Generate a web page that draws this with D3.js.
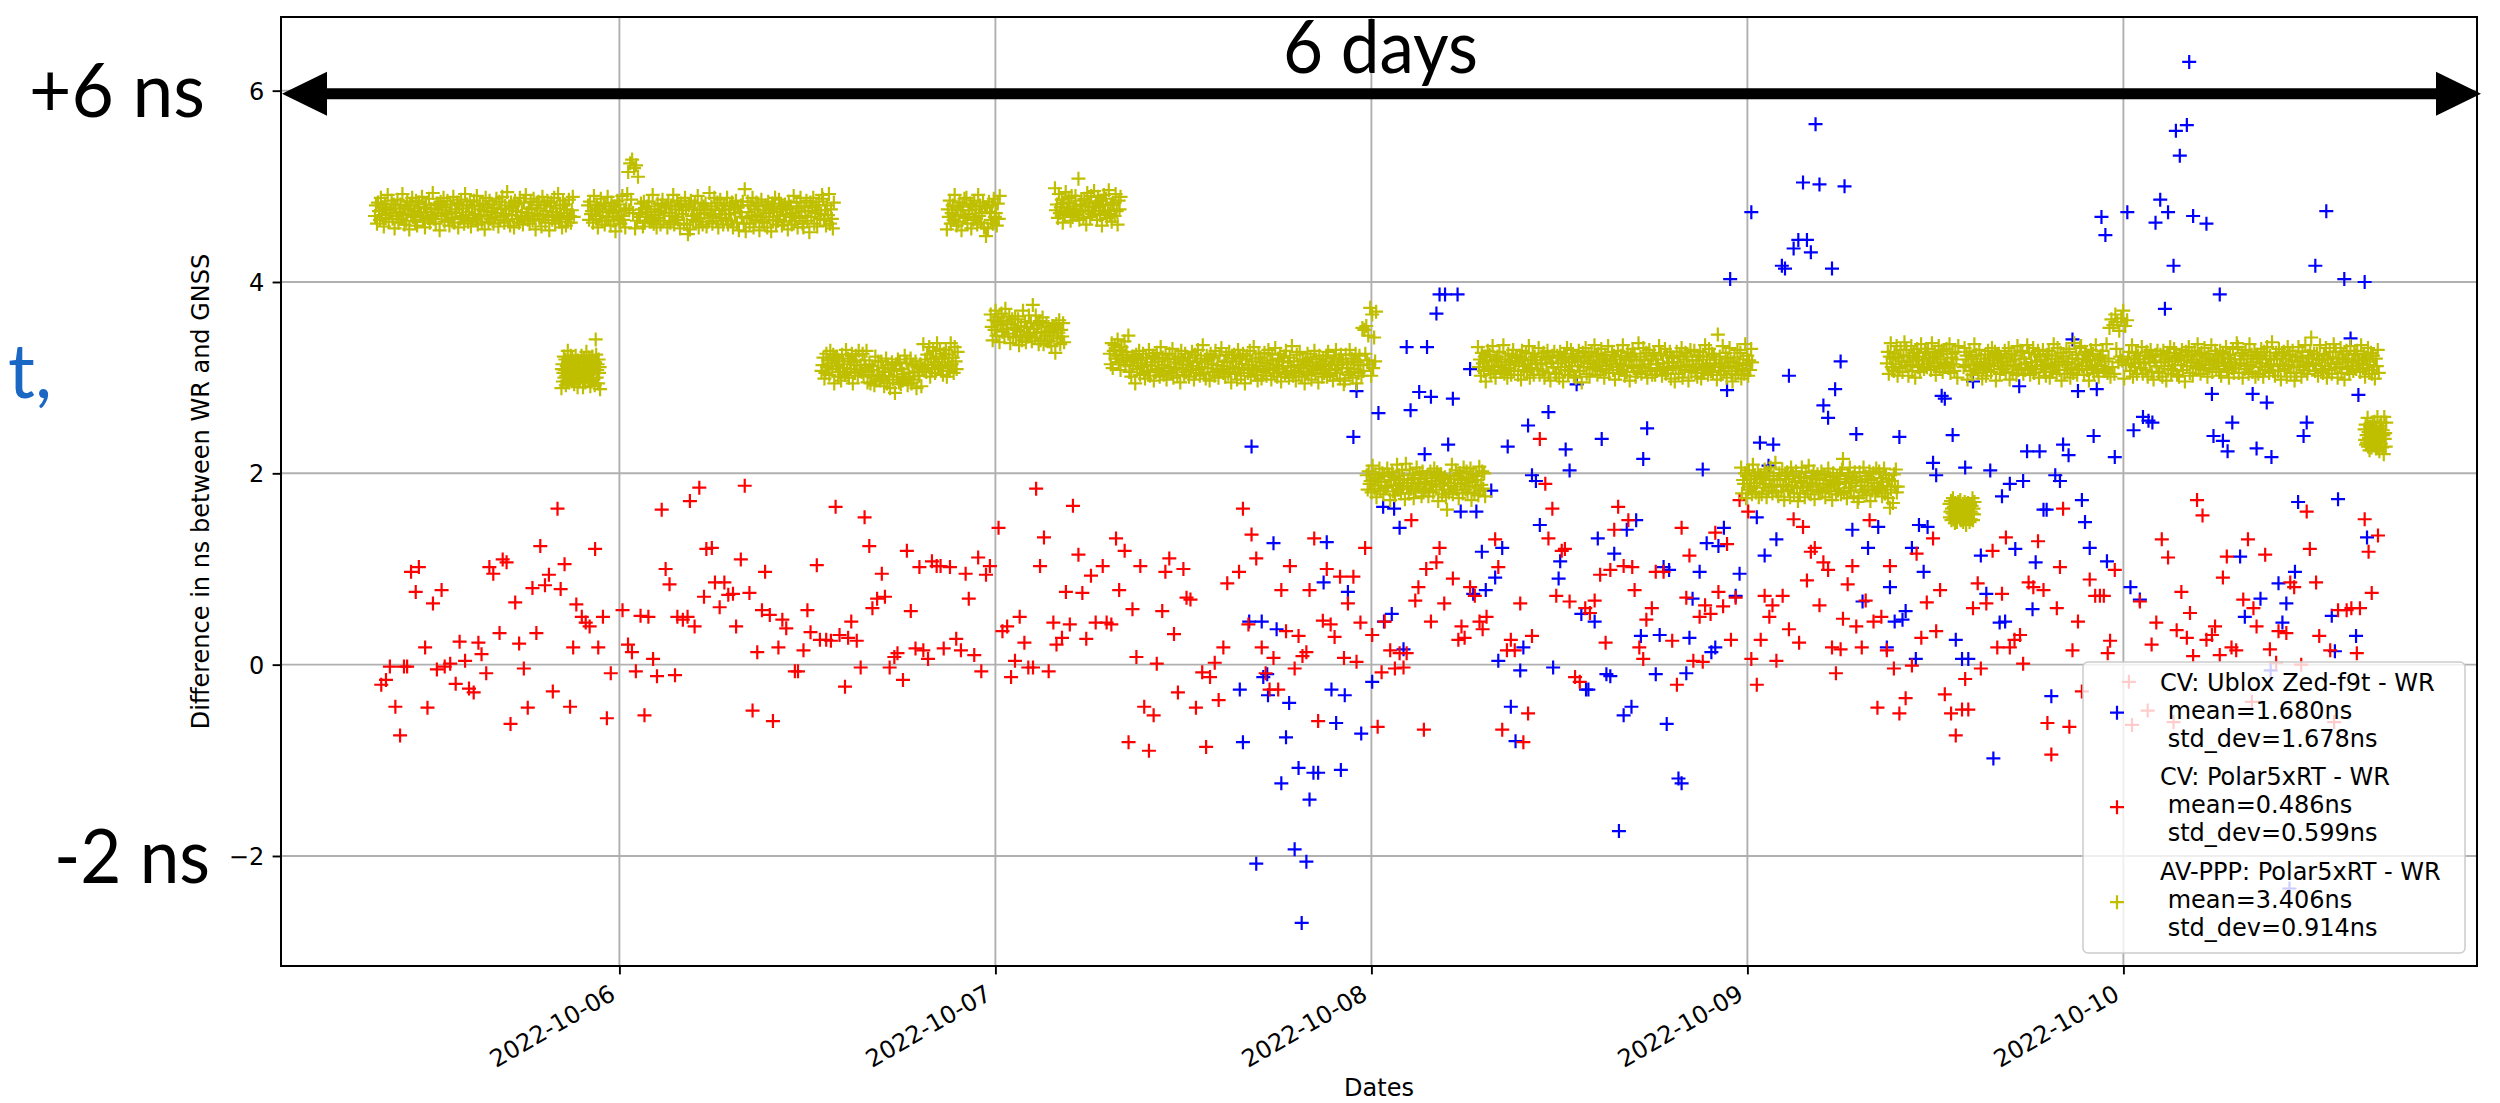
<!DOCTYPE html>
<html>
<head>
<meta charset="utf-8">
<script src="https://cdn.jsdelivr.net/npm/d3@7"></script>
<style>
  html, body { margin: 0; padding: 0; background: #fff; }
  svg { display: block; }
  .chart-text { font-family: "DejaVu Sans", sans-serif; fill: #000; }
  .note { font-family: Lato, "Open Sans", sans-serif; }
</style>
</head>
<body>
<svg id="chart" width="2500" height="1103"></svg>
<script>
// ---------------------------------------------------------------------------
// Data: time offsets are hours since 2022-10-05 00:00, values in ns
// ---------------------------------------------------------------------------
const T0 = new Date(2022, 9, 5, 0, 0, 0);

const xTickLabels = ["2022-10-06", "2022-10-07", "2022-10-08", "2022-10-09", "2022-10-10"];
const yTickValues = [-2, 0, 2, 4, 6];

// CV: Ublox Zed-f9t - WR  [hour, ns]
const cvUblox = [
[63.6,-0.26],[63.8,-0.81],[64.2,0.45],[64.35,2.28],[64.65,-2.08],[65.0,0.45],[65.1,-0.13],[65.35,-0.1],[65.4,-0.32],[65.75,1.27],
[65.95,0.37],[66.25,-1.24],[66.55,-0.76],[66.75,-0.4],[67.1,-1.93],[67.35,-1.08],[67.55,-2.7],[67.85,-2.06],[68.05,-1.41],[68.3,-1.13],
[68.6,-1.13],[68.95,0.86],[69.15,1.28],[69.45,-0.26],[69.75,-0.61],[70.05,-1.1],[70.3,-0.32],[70.5,0.76],[70.85,2.38],[71.05,2.86],
[71.35,-0.72],[72.05,-0.18],[72.45,2.63],[72.75,1.65],[72.8,0.45],[73.3,0.53],[73.45,1.63],[73.8,1.43],[74.05,0.16],[74.25,3.32],
[74.5,2.66],[75.05,2.85],[75.4,2.2],[75.55,3.32],[75.8,2.8],[76.15,3.67],[76.35,3.87],[76.7,3.87],[76.9,2.3],[77.2,2.78],
[77.5,3.87],[77.7,1.6],[78.3,3.09],[78.5,0.74],[78.7,1.6],[79.05,1.18],[79.3,0.78],[79.65,1.82],[79.9,0.91],[80.1,0.04],
[80.35,1.22],[80.7,2.28],[80.9,-0.44],[81.2,-0.8],[81.5,-0.06],[81.7,0.18],[82.0,2.5],[82.25,1.98],[82.5,1.92],[82.75,1.46],
[83.3,2.64],[83.6,-0.03],[83.95,0.9],[84.05,1.08],[84.4,2.25],[84.65,2.03],[85.1,2.93],[85.4,0.53],[85.7,-0.26],[85.85,-0.26],
[86.25,0.45],[86.45,1.32],[86.7,2.36],[87.0,-0.1],[87.25,-0.12],[87.5,1.16],[87.8,-1.74],[88.1,-0.53],[88.3,1.41],[88.6,-0.44],
[88.9,1.51],[89.2,0.3],[89.35,2.15],[89.6,2.47],[90.15,-0.1],[90.4,0.31],[90.65,1.02],[90.85,-0.62],
[91.0,0.99],[91.6,-1.19],[91.8,-1.24],[92.1,-0.09],[92.3,0.28],[92.5,0.69],[92.95,0.97],[93.15,2.04],[93.4,1.27],[93.7,0.13],
[93.95,0.18],[94.15,1.24],[94.5,1.43],[94.7,2.87],[94.9,4.03],[95.25,0.72],[95.5,0.95],[96.25,4.73],[96.6,1.54],[96.8,2.32],
[97.1,1.14],[97.35,2.08],[97.65,2.3],[97.85,1.31],[98.2,4.17],[98.4,4.14],[98.65,3.02],[98.95,4.35],[99.25,4.44],[99.55,5.04],
[99.8,4.44],[100.05,4.31],[100.35,5.65],[100.6,5.02],[100.85,2.71],[101.15,2.58],[101.4,4.14],[101.6,2.88],[101.95,3.17],[102.2,5.0],
[102.7,1.41],[102.95,2.41],[103.35,0.66],[103.7,1.22],[104.35,1.44],[104.9,0.18],[105.1,0.81],[105.4,0.45],[105.7,2.38],[105.9,0.47],
[106.1,0.56],[106.5,1.22],[106.75,0.06],[106.95,1.46],[107.25,0.97],[107.5,1.44],[107.85,2.11],[108.05,1.98],[108.4,2.81],[108.6,2.78],
[109.1,2.4],[109.3,0.26],[109.7,0.06],[109.9,2.06],[110.1,0.06],[110.4,2.96],[110.9,1.14],[111.25,0.74],[111.5,2.03],[111.7,-0.98],
[112.1,0.44],[112.25,1.76],[112.45,0.45],[112.75,1.89],[113.1,1.21],[113.35,2.91],[113.6,1.92],[113.85,2.23],[114.2,0.58],[114.4,1.07],
[114.65,2.23],[114.9,1.62],[115.1,1.62],[115.4,-0.33],[115.65,1.98],[115.95,1.92],[116.15,2.3],[116.5,2.19],[116.75,3.4],[117.1,2.86],
[117.35,1.72],[117.55,1.49],[117.85,1.22],[118.1,2.39],[118.3,2.88],[118.6,4.68],[118.85,4.49],[118.95,1.08],
[119.45,2.17],[120.25,4.73],[120.45,0.81],[120.65,2.45],[121.05,0.68],[121.25,2.59],[121.6,2.55],[121.85,2.53],[122.05,4.62],[122.35,4.86],
[122.65,3.72],[122.85,4.73],[123.2,4.17],[123.35,5.58],[123.6,5.32],[124.05,5.64],[124.2,6.3],[124.45,4.69],[125.3,4.61],[125.65,2.83],
[125.75,2.39],[126.15,3.87],[126.35,2.34],[126.65,2.23],[126.95,2.53],[127.45,1.13],[127.75,0.5],[128.25,2.83],[128.5,2.26],[128.75,0.69],
[129.15,2.74],[129.4,-0.06],[129.45,2.17],[129.9,0.85],[130.15,0.44],[130.4,0.64],[130.6,-2.34],[130.95,0.97],[131.15,1.7],[131.5,2.39],
[131.7,2.53],[132.25,4.17],[132.95,4.74],[133.3,0.51],[133.5,0.14],[133.7,1.73],[134.1,4.03],[134.5,3.41],[134.85,0.3],[135.0,2.82],
[135.4,4.0],[135.55,1.33]
];

// CV: Polar5xRT - WR  [hour, ns]
const cvPolar = [
[8.8,-0.21],[9.1,-0.16],[9.35,-0.02],[9.7,-0.44],[10.0,-0.74],[10.25,-0.02],[10.45,-0.02],[10.7,0.97],[11.0,0.76],[11.2,1.02],
[11.6,0.18],[11.75,-0.45],[12.1,0.64],[12.35,-0.05],[12.65,0.78],[12.85,-0.02],[13.2,0.01],[13.55,-0.2],[13.8,0.24],[14.15,0.04],
[14.4,-0.25],[14.7,-0.29],[15.0,0.23],[15.2,0.11],[15.5,-0.09],[15.7,1.02],[15.95,0.95],[16.35,0.33],[16.55,1.1],[16.8,1.07],
[17.05,-0.62],[17.35,0.65],[17.6,0.22],[17.9,-0.04],[18.15,-0.45],[18.45,0.8],[18.7,0.33],[18.95,1.24],[19.25,0.83],[19.5,0.94],
[19.75,-0.28],[20.05,1.63],[20.25,0.79],[20.5,1.05],[20.85,-0.44],[21.05,0.18],[21.25,0.63],[21.6,0.5],[21.85,0.44],[22.1,0.4],
[22.45,1.21],[22.65,0.18],[22.95,0.5],[23.2,-0.56],[23.45,-0.09],[24.2,0.57],[24.55,0.21],[24.8,0.13],[25.05,-0.07],[25.35,0.51],
[25.6,-0.53],[25.85,0.5],[26.15,0.06],[26.4,-0.12],[26.7,1.62],[26.95,1.0],[27.2,0.84],[27.55,-0.11],[27.7,0.5],[28.05,0.47],
[28.35,0.5],[28.5,1.71],[28.8,0.4],[29.1,1.85],[29.4,0.71],[29.55,1.21],[29.9,1.22],[30.1,0.86],[30.4,0.6],[30.7,0.86],
[30.95,0.73],[31.25,0.74],[31.45,0.4],[31.75,1.1],[32.0,1.87],[32.3,0.75],[32.5,-0.48],[32.8,0.13],[33.1,0.57],[33.3,0.97],
[33.6,0.52],[33.8,-0.59],[34.15,0.18],[34.4,0.47],[34.65,0.38],
[35.2,-0.07],[35.4,-0.07],[35.75,0.15],[36.0,0.57],[36.2,0.34],[36.6,1.04],[36.8,0.26],[37.2,0.26],[37.5,0.25],[37.8,1.65],
[38.05,0.31],[38.4,-0.23],[38.6,0.28],[38.8,0.45],[39.15,0.25],[39.4,-0.03],[39.65,1.54],[39.95,1.24],[40.15,0.59],[40.45,0.69],
[40.75,0.95],[40.95,0.71],[41.25,-0.03],[41.55,0.08],[41.75,0.12],[42.1,-0.16],[42.35,1.19],[42.6,0.56],[42.9,0.17],[43.15,1.02],
[43.4,0.15],[43.7,0.06],[43.95,1.08],[44.25,1.03],[44.5,1.03],[44.7,0.17],[45.1,1.02],[45.5,0.27],[45.8,0.15],[46.1,0.95],
[46.3,0.69],[46.65,0.1],[46.9,1.12],[47.1,-0.07],[47.4,0.94],[47.65,1.03],[48.2,1.43],[48.45,0.35],[48.75,0.4],[49.0,-0.13],
[49.25,0.04],[49.55,0.5],[49.85,0.23],[50.1,-0.03],[50.4,-0.03],[50.6,1.84],[50.85,1.03],[51.1,1.33],[51.4,-0.07],[51.7,0.44],
[51.9,0.21],[52.25,0.28],[52.5,0.76],[52.75,0.42],[52.95,1.66],[53.3,1.15],[53.55,0.75],[53.8,0.27],[54.1,0.93],[54.4,0.44],
[54.85,1.03],[55.1,0.44],[55.4,0.42],[55.7,1.32],[55.9,0.78],[56.25,1.19],[56.5,-0.81],[56.75,0.58],[57.0,0.08],[57.25,1.03],
[57.5,-0.44],[57.8,-0.9],[58.1,-0.53],[58.3,0.01],[58.65,0.56],[58.85,0.97],[59.1,1.11],[59.4,0.32],[59.65,-0.29],[60.0,1.0],
[60.2,0.7],[60.45,0.68],[60.8,-0.45],[61.2,-0.08],[61.45,-0.86],[61.7,-0.13],[62.0,0.02],[62.25,-0.37],[62.55,0.18],[62.8,0.85],
[63.55,0.97],[63.8,1.63],[64.15,0.42],[64.35,1.36],[64.65,1.11],[65.0,0.18],[65.25,-0.09],[65.5,-0.26],[65.75,0.07],[66.05,-0.26],
[66.25,0.78],[66.55,0.35],[66.8,1.03],[67.1,-0.04],[67.35,0.3],[67.6,0.09],[67.85,0.13],[68.05,0.78],[68.35,1.32],[68.6,-0.59],
[68.9,0.46],[69.15,1.0],[69.4,0.42],[69.65,0.29],[70.0,0.92],[70.25,0.07],[70.5,0.64],[70.85,0.92],[71.05,0.03],[71.3,0.44],
[71.6,1.22],[72.05,0.31],[72.4,-0.65],[72.65,-0.08],[72.85,0.45],[73.2,0.15],[73.5,-0.04],[73.8,0.12],[74.05,-0.03],[74.25,0.12],
[74.55,1.51],[74.8,0.67],[75.0,0.81],[75.35,-0.68],[75.5,1.0],[75.8,0.45],[76.15,1.07],[76.35,1.22],[76.65,0.64],[77.2,0.9],
[77.55,0.26],[77.75,0.4],[77.95,0.28],[78.3,0.81],[78.6,0.72],[78.9,0.45],[79.1,0.37],[79.35,0.5],[79.9,1.31],[80.1,1.02],
[80.35,-0.68],[80.65,0.15],[80.9,0.26],[81.15,0.15],[81.5,0.64],[81.7,-0.81],[82.0,-0.51],[82.25,0.3],[82.75,2.36],[83.1,1.89],
[83.3,1.32],[83.55,1.63],[83.8,0.72],[84.15,1.19],[84.35,1.21],[84.65,0.66],[85.0,-0.13],[85.3,-0.18],[85.65,0.59],[85.95,0.54],
[86.25,0.67],[86.6,0.94],[86.95,0.23],[87.25,0.99],[87.5,1.41],[87.75,1.65],[88.1,1.03],[88.4,1.51],[88.65,1.02],[88.8,0.78],
[89.1,0.18],[89.35,0.06],[89.55,0.47],[89.9,0.59],[90.15,0.97],[90.65,0.97],
[91.2,0.25],[91.5,-0.21],[91.8,1.43],[92.1,0.7],[92.3,1.14],[92.55,0.04],[92.95,0.5],[93.15,0.03],[93.3,0.62],[93.65,0.53],
[93.95,1.38],[94.15,0.76],[94.45,0.61],[94.7,1.26],[94.95,0.26],[95.25,0.7],[95.5,1.72],[96.05,1.6],[96.25,0.06],[96.6,-0.21],
[96.85,0.26],[97.1,0.72],[97.4,0.5],[97.6,0.62],[97.85,0.04],[98.25,0.72],[98.65,0.37],[98.95,1.52],[99.3,0.23],[99.55,1.44],
[99.8,0.88],[100.05,1.18],[100.3,1.22],[100.6,0.62],[100.85,1.07],[101.15,0.99],[101.4,0.18],[101.65,-0.09],[101.95,0.16],[102.1,0.48],
[102.4,0.84],[102.7,1.03],[102.95,0.4],[103.3,0.18],[103.55,0.67],[103.8,1.51],[104.05,0.45],[104.3,-0.45],[104.55,0.5],[104.9,0.15],
[105.1,1.03],[105.35,-0.04],[105.7,-0.51],[106.1,-0.35],[106.5,-0.01],[106.8,1.16],[107.1,0.28],[107.45,0.65],[107.85,1.32],[108.05,0.35],
[108.3,0.78],[108.6,-0.31],[109.0,-0.51],[109.3,-0.74],[109.7,-0.47],[109.9,-0.15],[110.1,-0.47],[110.4,0.59],[110.7,0.85],[110.9,-0.04],
[111.25,0.64],[111.65,1.19],[111.95,0.18],[112.25,0.74],[112.5,1.33],[112.75,0.18],[113.05,0.26],[113.4,0.31],[113.6,0.01],[113.95,0.86],
[114.25,0.81],[114.55,1.29],[114.9,0.78],[115.15,-0.61],[115.4,-0.94],[115.75,0.59],[115.95,1.02],[116.15,1.63],[116.55,-0.65],[116.75,0.15],
[117.1,0.45],[117.35,-0.28],[117.85,0.89],[118.2,0.72],[118.5,0.72],[118.75,0.72],[119.0,0.12],
[119.15,0.25],[119.45,0.99],[120.35,-0.18],[120.55,-0.63],[121.05,0.66],[121.55,-0.48],[121.8,0.21],[122.1,0.44],[122.45,1.31],[122.85,1.12],
[123.2,-0.6],[123.4,0.36],[123.7,0.76],[124.05,0.28],[124.25,0.54],[124.45,0.09],[124.7,1.72],[125.05,1.56],[125.3,0.26],[125.65,0.31],
[125.85,0.4],[126.15,0.1],[126.35,0.91],[126.6,1.13],[126.9,0.18],[127.2,0.15],[127.65,0.68],[127.95,1.31],[128.2,-0.39],[128.3,0.59],
[128.5,0.4],[129.05,1.15],[129.35,0.16],[129.75,0.02],[129.9,0.35],[130.4,0.33],[130.65,0.86],[130.9,0.81],[131.35,0.0],[131.7,1.6],
[131.9,1.21],[132.3,0.86],[132.5,0.3],[133.2,0.15],[133.45,-0.6],[133.7,0.57],[134.25,0.57],[134.55,0.59],[134.9,0.12],[135.1,0.59],
[135.4,1.52],[135.65,1.18],[135.85,0.75],[136.25,1.35]
];

// AV-PPP: Polar5xRT - WR, continuous runs of regularly sampled solutions,
// values in units of 0.01 ns
const pppA = [
469,480,461,483,474,465,488,470,478,458,482,467,476,491,463,475,472,485,466,481,
456,477,469,486,462,473,481,466,492,471,460,479,464,484,476,455,480,470,488,468,
474,463,485,459,477,483,469,472,489,465,478,457,481,473,467,487,462,476,470,493,
466,477,461,482,472,480,454,484,469,475,488,463,478,471,485,465,459,481,473,467,
489,462,476,472,483,457,480,466,486,469,477,461,492,470,481,463,473,484,458,479,
467,485,471,465,490,460,476,480,469,462,482,474,455,488,470,478,463,485,466,473,
481,461,477,468,487,472,458,484,465,476,489,469,462,480,471,494,464,477,459,483,
470,479,457,485,474,466,481,462,488,469,473,460,483,467,491,472,465,477,461,484,
476,464,487,469,455,480,471,484,466,477,458,489,470,481,462,474,485,468,454,479,
483,465,473,488,461,477,470,492,463,480,468,457,485,472,481,459,476,466,486,469,
462,475,489,468];
const pppB = [
289,309,314,296,305,322,300,308,319,292,302,312,297,328,306,316,295,311,301,323,
312,301,320,298,307,316,293,311,303,323,299,314,305,290,318,306,309,296,315,300,
303,323,305,315,290,311,319,299,314,295,306,327,301,316,308,297,321,304,312,291,
307,318,296,322,304,298,312,309,292,316,340,324,300,308,314,294,319,305,311,288];
const pppC = [
480,465,484,471,474,462,490,475,466,481,457,477,469,487,464,473,482,460,479,468,
489,468,476,459,483,472,464,479,453,474,485,466,481,461,469,490,465,475,457,477,
492,515,475,524,486,528,472,519,456,522,464,510,471,468,482,476,458,484,462,473,
479,468,484,463,473,465,491,461,476,470,457,482,467,474,460,480,486,464,472,478,
478,457,483,472,462,480,469,491,460,476,468,485,465,479,456,482,471,475,461,488,
478,460,450,480,455,485,469,465,476,483,463,471,490,457,475,467,482,460,479,472,
482,458,476,463,493,470,479,461,468,488,475,464,483,457,471,486,467,476,460,480,
475,466,488,460,471,479,464,483,457,476,472,485,462,478,454,473,480,468,484,461,
497,453,467,484,473,461,480,469,488,457,476,465,483,470,479,454,468,486,463,475,
462,480,472,457,484,468,475,453,482,465,477,488,460,473,464,486,469,479,459,476,
463,481,471,476,455,484,468,479,460,472,490,464,469,483,457,477,467,488,474,461,
457,479,469,485,464,474,452,483,468,478,488,461,472,480,458,475,484,466,471,491,
487,465,475,459,480,470,492,461,476,466,456,483];
const pppD = [
307,313,321,299,305,325,311,318,303,328,315,309,324,294,320,312,322,301,317,306,
297,324,310,314,303,329,306,320,300,317,309,325,294,316,305,323,313,302,328,307,
313,306,325,303,318,310,328,295,306,314,294,301,312,308,292,322,297,303,317,299,
297,317,301,310,291,306,320,294,313,302,289,309,316,298,307,284,314,301,319,295,
316,293,309,297,304,323,299,315,292,305,301,320,294,313,298,306,317,289,311,302,
302,314,291,309,335,310,319,306,324,313,332,301,320,309,328,316,305,322,336,311,
313,330,310,320,303,325,316,329,301,312,324,307,336,314,321,305,332,317,309,327];
const pppE = [
455,476,468,485,461,472,480,465,491,470,459,478,463,483,475,454,479,469,487,467,
488,461,475,471,482,456,479,465,485,468,476,460,491,469,480,462,472,483,457,478,
448,478,456,484,473,465,480,461,487,468,472,459,482,466,490];
const pppF = [
366,353,339,360,350,370,344,358,363,337,355,367,348,359,343,372,351,356,346,364,
336,356,361,343,352,364,342,350,361,334,344,354,339,370,348,358,337,353,343,365,
346,357,338,376,351,342,365,347,355,335,359,339,348,363,335,347,344,357,338,353,
338,349,333,354,344,352,326,356,341,347,360,335,350,343,357,337];
const pppG = [
498,475,481,467,492,472,478,486,462,483,470,494,477,474,488,482,464,490,468,479,
472,490,476,470,508,465,481,485,474,467,487,479,460,493,475,483,468,490,471,478,
495,474,482,465,489,478,470,485,459,480,491,472,487,467,475,496,471,481,463,483,
481,469,492,474,460,485,476,489];
const pppH = [
325,314,336,310,328,334,320,323,340,316,329,308,332,324,318,338,313,327,321,344,
306,317,301,322,312,320,294,324,309,315,328,303,318,311,325,305,299,321,313,307,
329,302,316,312,323,297,320,306,326,309,317,301,332,310,321,303,313,324,298,319,
307,325,311,305,330,300,316,320,309,302,322,314,295,328,310,318,303,325,306,313,
321,301,317,308,327,312,298,324,305,316,329,309,302,320,311,334,304,317,299,323,
310,319,297,325,314,306,321,302,328,309,313,300,323,307,331,312,305,317,301,324,
316,304,327,309,295,320,311,324,306,317,298,329,310,321,302,314,325,308,294,319,
323,305,313,328,301,317,310,332,303,320,308,297,325,312,321,299,316,306,326,309,
302,315,329,308,318,298,324,310,305,331,313,301,320,309,325,296,317,312,322,304,
328,306,316,300,321,311,333,302,317,307,297,324,313,305,327,310,301,319,314,294,
317,306,325,303,312,321,298,316,308,328,304,319,310,295,323,311,314,301,320,305,
312,323,301,327,309,303,317,314,297,321,308,329,305,313,319,299,324,310,316,293,
297,324,310,314,303,329,306,320,300,317,309,325,294,316,305,323,313,302,352,307,
350,325,354,318,344,314,373,302,366,310,342,317,369];
const pppI = [
198,183,202,189,192,180,208,193,184,199,175,195,187,205,182,191,200,178,197,186,
185,205,187,197,172,193,201,181,196,177,188,209,183,198,190,179,203,186,194,173,
210,187,193,179,204,184,190,198,174,195,182,206,189,186,200,194,176,202,180,191,
184,190,198,176,182,202,188,195,180,205,192,186,201,171,197,189,199,178,194,183,
196,175,162,190,180,198,187,209,178,194,186,203,183,197,174,200,189,193,179,206,
190,183,202,180,195,187,205,172,191,199,179,186,197,193,177,207,182,188,202,184,
200,176];
const pppJ = [
332,311,319,302,326,315,307,322,296,317,328,309,324,304,312,333,308,318,300,320,
322,311,327,306,316,308,334,304,319,313,300,325,310,317,303,323,329,307,315,321,
321,303,317,323,298,328,312,308,319,326,306,314,333,300,318,310,325,303,322,315,
318,309,331,303,314,322,307,326,300,319,315,328,305,321,297,316,323,311,327,304,
305,323,315,300,327,311,318,296,325,308,320,331,303,316,307,329,312,322,302,319,
300,322,312,328,307,317,295,326,311,321,331,304,315,323,301,318,327,309,314,334,
311,322,303,325,316,307,330,312,320,300,324,309,318,333,305,317,314,327,308,323,
298,319,311,328,304,315,323,308,334,313,302,321,306,326,318,297,322,312,330,310,
325,301,319,306,336,313,322,304,311,331,318,307,326,300,314,329,310,319,303,323,
326,303,319,307,314,333,309,325,302,315,311,330,304,323,308,316,327,299,321,312,
321,296,310,327,316,304,323,312,331,300,319,308,326,313,322,297,311,329,306,318,
311,328,308,318,301,323,314,327,299,310,322,305,334,312,319,303,330,315,307,325,
306,324,314,319,298,345,311,322,303,315,333,307,312,326,300,320,310,331,317,304,
296,316,321,303,312,329,307,315,326,299,309,319,304,335,313,323,302,318,308,330,
316];
const pppK = [
206,179,193,189,200,174,197,183,203,186,194,178,209,187,198,180,190,201,175,196,
198,178,194,185,204,189,175,201,182,193,206,186,179,197,188,211,181,194,176,200,
193,181,204,186,172,197,188,201,183,194,175,206,187,198,179,191,202,185,171,196,
179,192,206,185,195,175,201,187,182,208,190,178,197,186,202,173,194,189,199,181,
194,183,202,180,189,198,175,193,185,205,181,196,187,172,200,188,191,178,197,182,
189,200,178,204,215,180,194,191,174,198,185,206,182,190,196,176,201,187,193,170,
174,201,187,191,180,206,183,197,177,194,186,202,171,193,182,200,190,179,205,184,
182,202,186,195,176,191,205,179,198,187,174,194,164,183,192,169,199,186,204,180,
186];
const pppL = [
315,327,304,322,336,311,320,307,325,314,333,302,321,310,329,317,306,323,337,312,
329,316,302,323,313,333,307,321,326,300,318,330,311,322,306,335,314,319,309,327,
326,311,330,317,320,308,336,321,312,327,303,323,315,333,310,319,328,306,325,314,
312,330,316,310,335,305,321,325,314,307,327,319,300,333];
const pppM = [
168,154,160,171,151,163,158,174,152,165,156,148,169,159,166,149,162,155,170,157,
162,155,172,151,159,165,154,168,149,163,160,170,152,165,146,161,166,157,169,152,
165,149,168,160,152,166,158,174,151,163,157,170];
const pppN = [
311,331,313,323,298,319,327,307,322,303,314,335,309,324,316,305,329,312,320,299,
310,316,324,302,308,328,314,321,306,331,318,312,327,297,323,315,325,304,320,309,
316,309,328,306,321,313,331,298,317,325,305,312,323,319,303,333,308,314,328,310,
327,304,320,308,315,334,310,326,303,316,312,331,305,324,309,317,328,300,322,313,
312,329,309,319,302,324,315,328,300,311,323,306,335,313,320,304,331,316,308,326,
297,317,322,304,313,330,308,316,327,300,310,320,305,336,314,324,303,319,309,331,
333,312,320,303,327,316,308,323,297,318,329,310,325,305,313,334,309,319,301,321,
323,312,328,307,317,309,335,305,320,352,301,361,311,355,304,366,330,358,316,349,
322,362,318,370,299,354,313,360,320,327,307,315,334,301,319,311,326,304,323,316,
319,310,332,304,315,323,308,327,301,320,316,329,306,322,298,317,324,312,328,305,
306,324,316,301,328,312,319,297,326,309,321,332,304,317,308,330,313,323,303,320,
301,323,313,329,308,318,296,327,312,322,332,305,316,324,302,319,328,310,315,335,
312,323,304,326,317,308,331,313,321,301,325,310,319,334,306,318,315,328,309,324,
317,306,328,302,320,326,312,315,332,308,321,300,324,316,310,330,305,319,313,336,
332,305,319,315,326,300,323,309,329,312,320,304,335,313,324,306,316,327,301,322,
324,304,320,311,330,315,301,327,308,319,332,312,305,323,314,337,307,320,302,326,
319,307,330,312,298,323,314,327,309,320,301,332,313,324,305,317,328,311,297,322,
305,318,332,311,321,301,327,313,308,334,316,304,323,312,328,342,320,315,325,307,
313,325,302,320,334,309,318,305,323,312,331,300,319,308,327,315,304,321,335,310,
327,314,300,321,311,331,305,319,324,298,316,328,309,320,304,333,312,317,307,325,
324,309,328,315,318,306,334,319,310,325,301,321,313,331,308,317,326,304,323,312,
299,320,312,329,305];
const pppO = [
246,235,251,230,240,232,258,228,243,237,224,249,234,241,227,247,253,231,239,245,
254,232,242,226,247,237,259,228,243,233,223,250,239,231,253,236,227,245,240,220,
259,236,242,228,253];

// run start (hour) and sampling interval (minutes)
const pppRuns = [
  {start: 8.4,   stepMin: 3.75,  values: pppA},
  {start: 20.3,  stepMin: 1.875, values: pppB},
  {start: 22.0,  stepMin: 3.75,  values: pppC},
  {start: 36.9,  stepMin: 3.75,  values: pppD},
  {start: 44.9,  stepMin: 3.75,  values: pppE},
  {start: 47.7,  stepMin: 3.75,  values: pppF},
  {start: 51.8,  stepMin: 3.75,  values: pppG},
  {start: 55.3,  stepMin: 3.75,  values: pppH},
  {start: 71.7,  stepMin: 3.75,  values: pppI},
  {start: 78.8,  stepMin: 3.75,  values: pppJ},
  {start: 95.6,  stepMin: 3.75,  values: pppK},
  {start: 104.9, stepMin: 3.75,  values: pppL},
  {start: 108.9, stepMin: 1.875, values: pppM},
  {start: 109.8, stepMin: 3.75,  values: pppN},
  {start: 135.4, stepMin: 1.875, values: pppO}
];

const seriesNames = ["CV: Ublox Zed-f9t - WR", "CV: Polar5xRT - WR", "AV-PPP: Polar5xRT - WR"];
const seriesMeans = ["1.680", "0.486", "3.406"];
const seriesStd   = ["1.678", "0.599", "0.914"];
const seriesColors = ["#0000ff", "#ff0000", "#bfbf00"];

// ---------------------------------------------------------------------------
// Layout
// ---------------------------------------------------------------------------
const box = {left: 281, right: 2477, top: 17, bottom: 966};
const FONT = 24;            // axis and legend text size (px)
const MARK = 7;             // half-size of the '+' markers
const hourToDate = h => new Date(T0.getTime() + h * 3600e3);

const x = d3.scaleTime()
  .domain([hourToDate(2.4), hourToDate(142.57)])
  .range([box.left, box.right]);
const y = d3.scaleLinear()
  .domain([-3.15, 6.77])
  .range([box.bottom, box.top]);

const svg = d3.select("#chart");
svg.append("rect").attr("width", 2500).attr("height", 1103).attr("fill", "#fff");

svg.append("defs").append("clipPath").attr("id", "plot-clip")
  .append("rect")
  .attr("x", box.left).attr("y", box.top)
  .attr("width", box.right - box.left).attr("height", box.bottom - box.top);

const parseDay = d3.timeParse("%Y-%m-%d");
const xTickDates = xTickLabels.map(parseDay);

// grid
const grid = svg.append("g").attr("stroke", "#b0b0b0").attr("stroke-width", 1.9);
grid.selectAll("line.v").data(xTickDates).join("line").attr("class", "v")
  .attr("x1", d => x(d)).attr("x2", d => x(d))
  .attr("y1", box.top).attr("y2", box.bottom);
grid.selectAll("line.h").data(yTickValues).join("line").attr("class", "h")
  .attr("x1", box.left).attr("x2", box.right)
  .attr("y1", d => y(d)).attr("y2", d => y(d));

// scatter markers
const plusPath = `M${-MARK},0H${MARK}M0,${-MARK}V${MARK}`;
const dataLayer = svg.append("g").attr("clip-path", "url(#plot-clip)");

function drawPlus(points, color) {
  dataLayer.append("g")
    .attr("fill", "none").attr("stroke", color).attr("stroke-width", 2.2)
    .selectAll("path").data(points).join("path")
    .attr("d", plusPath)
    .attr("transform", d => `translate(${x(d.t)},${y(d.v)})`);
}

const bluePts = cvUblox.map(([h, v]) => ({t: hourToDate(h), v}));
const redPts  = cvPolar.map(([h, v]) => ({t: hourToDate(h), v}));
const pppPts  = pppRuns.flatMap(run =>
  run.values.map((cv, i) => ({t: hourToDate(run.start + i * run.stepMin / 60), v: cv / 100})));

drawPlus(bluePts, seriesColors[0]);
drawPlus(redPts, seriesColors[1]);
drawPlus(pppPts, seriesColors[2]);

// axes
const yAxis = d3.axisLeft(y).tickValues(yTickValues).tickSize(8.4).tickPadding(8.4);
const gy = svg.append("g").attr("transform", `translate(${box.left},0)`).call(yAxis);
gy.select(".domain").remove();
gy.selectAll(".tick line").attr("stroke", "#000").attr("stroke-width", 1.9);
gy.selectAll(".tick text").attr("font-size", FONT)
  .attr("font-family", "DejaVu Sans, sans-serif").attr("fill", "#000").attr("dy", "0.36em");

const xAxis = d3.axisBottom(x).tickValues(xTickDates).tickSize(8.4)
  .tickFormat(d3.timeFormat("%Y-%m-%d"));
const gx = svg.append("g").attr("transform", `translate(0,${box.bottom})`).call(xAxis);
gx.select(".domain").remove();
gx.selectAll(".tick line").attr("stroke", "#000").attr("stroke-width", 1.9);
gx.selectAll(".tick text")
  .attr("font-size", FONT).attr("font-family", "DejaVu Sans, sans-serif").attr("fill", "#000")
  .attr("text-anchor", "end")
  .attr("x", 0).attr("y", 0).attr("dy", 0)
  .attr("transform", "translate(-3,32.5) rotate(-30)");

// frame
svg.append("rect")
  .attr("x", box.left).attr("y", box.top)
  .attr("width", box.right - box.left).attr("height", box.bottom - box.top)
  .attr("fill", "none").attr("stroke", "#000").attr("stroke-width", 2);

// axis titles
svg.append("text").attr("class", "chart-text")
  .attr("font-size", FONT).attr("text-anchor", "middle")
  .attr("x", (box.left + box.right) / 2).attr("y", 1096)
  .text("Dates");
svg.append("text").attr("class", "chart-text")
  .attr("font-size", FONT).attr("text-anchor", "middle")
  .attr("transform", `translate(209,${(box.top + box.bottom) / 2}) rotate(-90)`)
  .text("Difference in ns between WR and GNSS");

// legend
const lg = {x: 2083, y: 662, w: 382, h: 291};
const legend = svg.append("g");
legend.append("rect")
  .attr("x", lg.x).attr("y", lg.y).attr("width", lg.w).attr("height", lg.h)
  .attr("rx", 5).attr("ry", 5)
  .attr("fill", "#fff").attr("fill-opacity", 0.8)
  .attr("stroke", "#cccccc").attr("stroke-width", 1.5);

const entryTop = [690.5, 785, 880];
const lineGap = 28.2;
seriesNames.forEach((name, i) => {
  const lines = [name, ` mean=${seriesMeans[i]}ns`, ` std_dev=${seriesStd[i]}ns`];
  const t = legend.append("text").attr("class", "chart-text")
    .attr("font-size", FONT).style("white-space", "pre");
  lines.forEach((ln, k) => {
    t.append("tspan").attr("x", 2160).attr("y", entryTop[i] + k * lineGap).text(ln);
  });
  legend.append("path")
    .attr("d", plusPath)
    .attr("transform", `translate(2117,${entryTop[i] + lineGap - 6})`)
    .attr("fill", "none").attr("stroke", seriesColors[i]).attr("stroke-width", 2.2);
});

// ---------------------------------------------------------------------------
// Slide annotations: span arrow and level markers
// ---------------------------------------------------------------------------
const ay = y(6) + 3;
const arrowL = box.left + 1, arrowR = box.right + 4, headL = 45, headH = 22, shaft = 5.5;
svg.append("path")
  .attr("d", `M${arrowL},${ay}L${arrowL + headL},${ay - headH}V${ay - shaft}H${arrowR - headL}V${ay - headH}` +
             `L${arrowR},${ay}L${arrowR - headL},${ay + headH}V${ay + shaft}H${arrowL + headL}V${ay + headH}Z`)
  .attr("fill", "#000");

svg.append("text").attr("class", "note").attr("font-size", 74).attr("fill", "#000")
  .attr("x", 1283).attr("y", 73).attr("textLength", 195).attr("lengthAdjust", "spacingAndGlyphs")
  .text("6 days");
svg.append("text").attr("class", "note").attr("font-size", 75).attr("fill", "#000")
  .attr("x", 29).attr("y", y(6) + 26.5).attr("textLength", 176).attr("lengthAdjust", "spacingAndGlyphs")
  .text("+6 ns");
svg.append("text").attr("class", "note").attr("font-size", 75).attr("fill", "#000")
  .attr("x", 54).attr("y", y(-2) + 27).attr("textLength", 156).attr("lengthAdjust", "spacingAndGlyphs")
  .text("-2 ns");
svg.append("text").attr("class", "note").attr("font-size", 75).attr("fill", "#1b67c4")
  .attr("text-anchor", "end").attr("x", 52).attr("y", 398)
  .text("t,");
</script>
</body>
</html>
